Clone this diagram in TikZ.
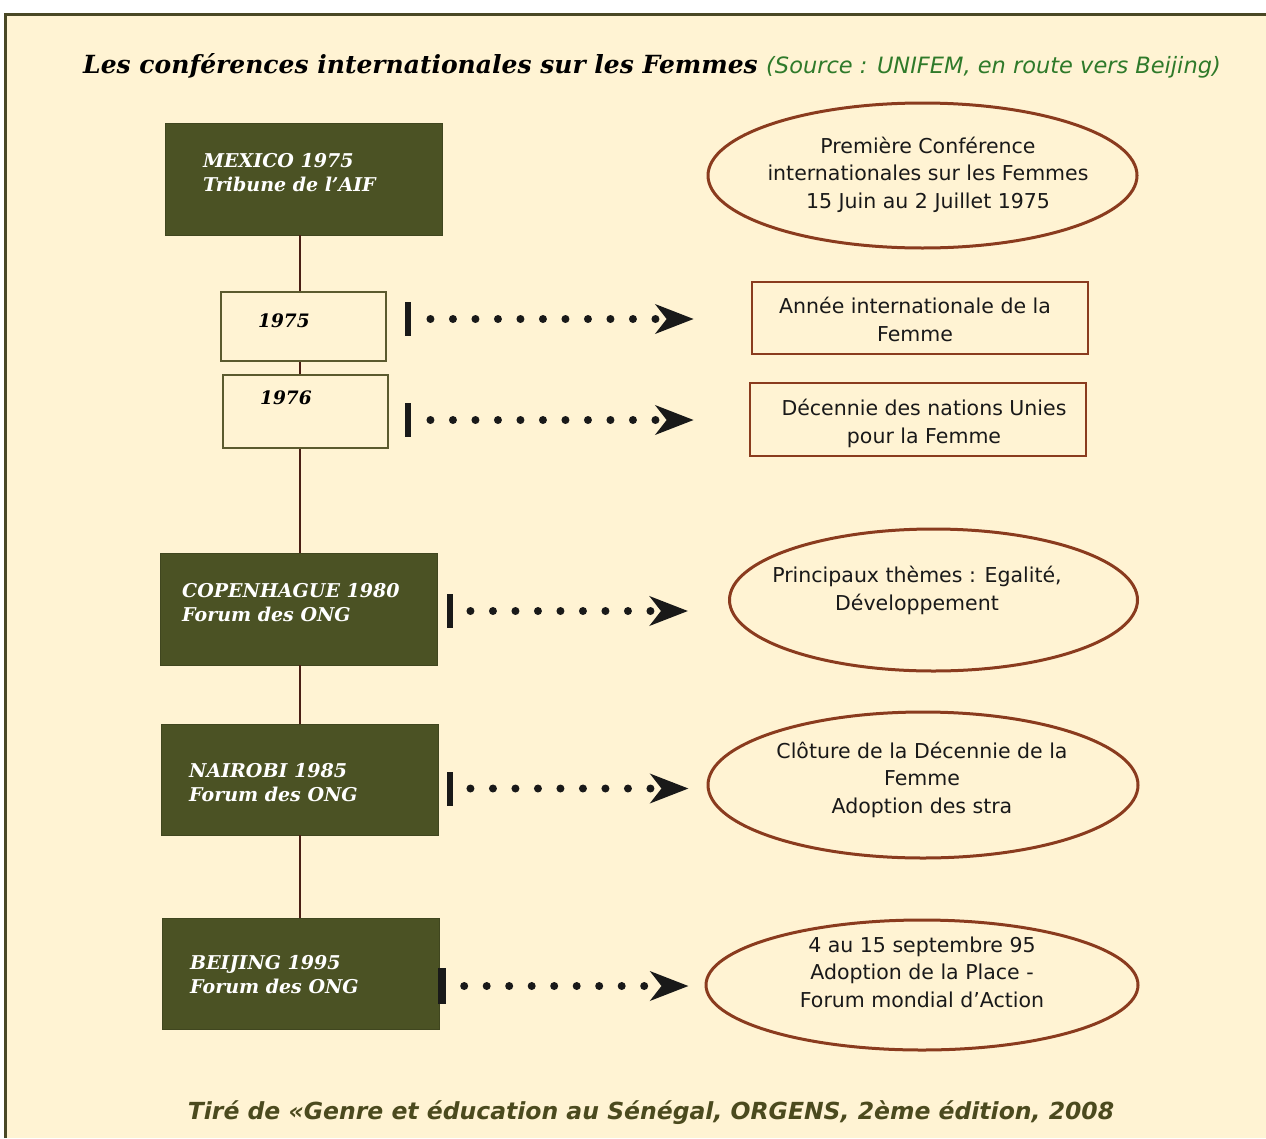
\documentclass[tikz,border=0pt]{standalone}
\usepackage{fontspec}
\setmainfont{DejaVu Serif}
\newfontfamily\gserif{DejaVu Serif}
\newfontfamily\tsans{DejaVu Sans}
\usetikzlibrary{arrows.meta,shapes.geometric}
\definecolor{cream}{HTML}{FFF3D3}
\definecolor{olivebox}{HTML}{4B5224}
\definecolor{oliveline}{HTML}{5B5A2E}
\definecolor{brownline}{HTML}{8A3B1E}
\definecolor{timeline}{HTML}{4A1E14}
\definecolor{srcgreen}{HTML}{2F7A2A}
\definecolor{footolive}{HTML}{4B4A1E}
\tikzset{
  darkbox/.style={rectangle, fill=olivebox, draw=olivebox!85!black, line width=0.8pt, inner sep=0pt, minimum width=277pt, minimum height=112pt},
  yearbox/.style={rectangle, fill=cream, draw=oliveline, line width=2.6pt, inner sep=0pt, minimum width=165pt},
  brownrect/.style={rectangle, draw=brownline, line width=2.6pt, inner sep=0pt, minimum width=336pt, minimum height=72pt},
  brownell/.style={ellipse, draw=brownline, line width=3pt, inner sep=0pt},
  barmark/.style={rectangle, fill=black!90, inner sep=0pt, minimum width=6.5pt, minimum height=34pt},
  dotarrow/.style={draw=black!90, line width=8pt, line cap=round, dash pattern=on 0pt off 22.5pt,
     -{Stealth[length=38pt,width=29pt,inset=11pt]}},
  tline/.style={draw=timeline, line width=2.2pt},
  boxtext/.style={font=\gserif\bfseries\itshape\fontsize{19}{24}\selectfont, text=white, align=left, inner sep=0pt},
  yeartext/.style={font=\gserif\bfseries\itshape\fontsize{18.5}{24}\selectfont, text=black, inner sep=0pt},
  elltext/.style={font=\tsans\fontsize{20.5}{27.5}\selectfont, text=black!90, align=center, inner sep=0pt}
}
\begin{document}
\begin{tikzpicture}[x=1pt,y=-1pt]
\useasboundingbox (0,0) rectangle (1266,1138);
\fill[white] (0,0) rectangle (1266,1138);
\fill[cream] (4,13) rectangle (1266,1138);
\draw[oliveline!80!black, line width=3pt] (5.5,1138) -- (5.5,14.5) -- (1266,14.5);

% title
\node[anchor=base west, inner sep=0pt, font=\gserif\bfseries\itshape\fontsize{25}{30}\selectfont] (title) at (83,73) {Les conférences internationales sur les Femmes};
\node[anchor=base west, inner sep=0pt, text=srcgreen, font=\tsans\itshape\fontsize{22.5}{26}\selectfont] (src) at ([xshift=8pt]title.base east) {(Source : UNIFEM, en route vers Beijing)};

% left column boxes
\node[darkbox] (mexico) at (303.5,179) {};
\node[boxtext, anchor=base west] (mexicot) at (203,191) {MEXICO 1975\\Tribune de l’AIF};
\node[yearbox, minimum height=69pt] (y75) at (303.5,326.5) {};
\node[yeartext, anchor=base west] (y75t) at (258,327) {1975};
\node[yearbox, minimum height=73pt] (y76) at (305.5,411.5) {};
\node[yeartext, anchor=base west] (y76t) at (260,404) {1976};
\node[darkbox] (copen) at (299,609) {};
\node[boxtext, anchor=base west] (copent) at (182,621) {COPENHAGUE 1980\\Forum des ONG};
\node[darkbox, minimum height=111pt] (nairobi) at (300,779.5) {};
\node[boxtext, anchor=base west] (nairobit) at (189,801) {NAIROBI 1985\\Forum des ONG};
\node[darkbox, minimum height=111pt] (beijing) at (301,973.5) {};
\node[boxtext, anchor=base west] (beijingt) at (190,993) {BEIJING 1995\\Forum des ONG};

% timeline
\draw[tline] (mexico.south -| 300,0) -- (y75.north -| 300,0);
\draw[tline] (y75.south -| 300,0) -- (y76.north -| 300,0);
\draw[tline] (y76.south -| 300,0) -- (copen.north -| 300,0);
\draw[tline] (copen.south -| 300,0) -- (nairobi.north -| 300,0);
\draw[tline] (nairobi.south -| 300,0) -- (beijing.north -| 300,0);

% right column
\node[brownell, minimum width=429pt, minimum height=145pt] (e1) at (922.5,175.5) {};
\node[elltext, anchor=base] (e1t) at (928,208) {Première Conférence\\internationales sur les Femmes\\15 Juin au 2 Juillet 1975};
\node[brownrect] (r1) at (920,318) {};
\node[elltext, anchor=base] (r1t) at (915,341) {Année internationale de la\\Femme};
\node[brownrect, minimum height=73pt] (r2) at (918,419.5) {};
\node[elltext, anchor=base] (r2t) at (924,443) {Décennie des nations Unies\\pour la Femme};
\node[brownell, minimum width=408pt, minimum height=142pt] (e3) at (933.5,600) {};
\node[elltext, anchor=base] (e3t) at (917,610) {Principaux thèmes : Egalité,\\Développement};
\node[brownell, minimum width=430pt, minimum height=146pt] (e4) at (923,785) {};
\node[elltext, anchor=base] (e4t) at (922,813) {Clôture de la Décennie de la\\Femme\\Adoption des stra};
\node[brownell, minimum width=432pt, minimum height=130pt] (e5) at (922,985) {};
\node[elltext, anchor=base] (e5t) at (922,1007) {4 au 15 septembre 95\\Adoption de la Place -\\Forum mondial d’Action};

% markers and arrows
\node[barmark] (b1) at (408,319) {};
\node[barmark] (b2) at (408,420) {};
\node[barmark] (b3) at (450,611) {};
\node[barmark] (b4) at (450,788.5) {};
\node[barmark, minimum width=8pt, minimum height=36pt] (b5) at (442,986) {};
\draw[dotarrow, shorten <=19pt, shorten >=57pt] (b1.east) -- (b1.east -| r1.west);
\draw[dotarrow, shorten <=19pt, shorten >=55pt] (b2.east) -- (b2.east -| r2.west);
\draw[dotarrow, shorten <=17pt, shorten >=40pt] (b3.east) -- (b3.east -| e3.west);
\draw[dotarrow, shorten <=17pt, shorten >=18pt] (b4.east) -- (b4.east -| e4.west);
\draw[dotarrow, shorten <=18pt, shorten >=16pt] (b5.east) -- (b5.east -| e5.west);

% footer
\node[anchor=base, inner sep=0pt, text=footolive, font=\tsans\bfseries\itshape\fontsize{23.5}{28}\selectfont] (foot) at (651,1119) {Tiré de «Genre et éducation au Sénégal, ORGENS, 2ème édition, 2008};
\end{tikzpicture}
\end{document}
